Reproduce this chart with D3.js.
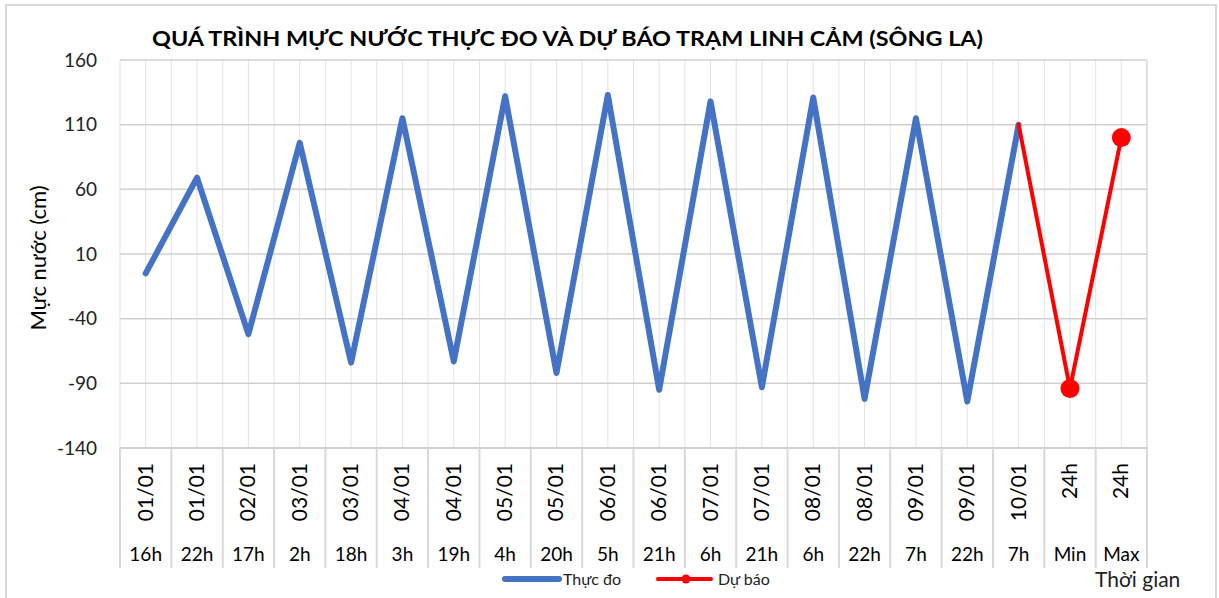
<!DOCTYPE html>
<html>
<head>
<meta charset="utf-8">
<script src="https://cdn.jsdelivr.net/npm/d3@7"></script>
<style>
  body { margin: 0; background: #fff; }
  svg { display: block; font-family: Lato, "Open Sans", sans-serif; }
</style>
</head>
<body>
<div id="chart"></div>
<script>
// Du lieu
var ngay      = ['01/01','01/01','02/01','03/01','03/01','04/01','04/01','05/01','05/01','06/01',
                 '06/01','07/01','07/01','08/01','08/01','09/01','09/01','10/01','24h','24h'];
var gio       = ['16h','22h','17h','2h','18h','3h','19h','4h','20h','5h',
                 '21h','6h','21h','6h','22h','7h','22h','7h','Min','Max'];
var thuc_do   = [-5, 69, -52, 96, -74, 115, -73, 132, -82, 133,
                 -95, 128, -93, 131, -102, 115, -104, 110, null, null];
var du_bao    = [null, null, null, null, null, null, null, null, null, null,
                 null, null, null, null, null, null, null, 110, -94, 100];
var y_ticks   = [-140, -90, -40, 10, 60, 110, 160];

var chart_width  = 1219;
var chart_height = 598;
var plot = { left: 120, right: 1147, top: 60, bottom: 448 };

var svg = d3.select('#chart')
    .append('svg')
    .attr('width', chart_width)
    .attr('height', chart_height);

// Khung bieu do
svg.append('rect')
    .attr('x', 6).attr('y', 5)
    .attr('width', 1210).attr('height', 600)
    .attr('fill', '#fff')
    .attr('stroke', '#d9d9d9')
    .attr('stroke-width', 2);

// Thang do
var x_scale = d3.scaleBand()
    .domain(d3.range(ngay.length))
    .range([plot.left, plot.right]);

var y_scale = d3.scaleLinear()
    .domain([-140, 160])
    .range([plot.bottom, plot.top]);

var bw = x_scale.bandwidth();

// Luoi doc (giua va bien moi nhom)
var grid = svg.append('g');
d3.range(ngay.length).forEach(function(i){
    var x0 = x_scale(i);
    grid.append('line')
        .attr('x1', x0 + bw / 2).attr('x2', x0 + bw / 2)
        .attr('y1', plot.top).attr('y2', plot.bottom)
        .attr('stroke', '#e3e3e3').attr('stroke-width', 1);
    grid.append('line')
        .attr('x1', x0).attr('x2', x0)
        .attr('y1', plot.top).attr('y2', plot.bottom)
        .attr('stroke', '#e3e3e3').attr('stroke-width', 1);
});
grid.append('line')
    .attr('x1', plot.right).attr('x2', plot.right)
    .attr('y1', plot.top).attr('y2', plot.bottom)
    .attr('stroke', '#d9d9d9').attr('stroke-width', 1.5);

// Luoi ngang
grid.selectAll('line.h')
    .data(y_ticks)
    .enter()
    .append('line')
    .attr('class', 'h')
    .attr('x1', plot.left).attr('x2', plot.right)
    .attr('y1', function(d){ return y_scale(d); })
    .attr('y2', function(d){ return y_scale(d); })
    .attr('stroke', '#d0d0d0')
    .attr('stroke-width', 1.5);

// Truc Y
var y_axis = svg.append('g')
    .attr('transform', 'translate(' + plot.left + ',0)')
    .call(d3.axisLeft(y_scale)
        .tickValues(y_ticks)
        .tickFormat(function(d){ return String(d); })
        .tickSize(0)
        .tickPadding(23));
y_axis.select('.domain').remove();
y_axis.selectAll('text')
    .attr('font-family', 'Lato, sans-serif')
    .attr('font-size', 19)
    .attr('fill', '#222');

svg.append('text')
    .attr('transform', 'translate(46,' + 258 + ') rotate(-90)')
    .attr('text-anchor', 'middle')
    .attr('font-size', 22)
    .attr('fill', '#000')
    .text('Mực nước (cm)');

// Truc X (nhan nhieu cap)
svg.append('line')
    .attr('x1', plot.left).attr('x2', plot.right)
    .attr('y1', plot.bottom).attr('y2', plot.bottom)
    .attr('stroke', '#d0d0d0').attr('stroke-width', 2);

var sep = d3.range(ngay.length + 1).map(function(i){
    return i < ngay.length ? x_scale(i) : plot.right;
});
svg.selectAll('line.sep')
    .data(sep)
    .enter()
    .append('line')
    .attr('class', 'sep')
    .attr('x1', function(d){ return d; })
    .attr('x2', function(d){ return d; })
    .attr('y1', plot.bottom)
    .attr('y2', 568)
    .attr('stroke', '#d9d9d9')
    .attr('stroke-width', 2);

svg.selectAll('text.ngay')
    .data(ngay)
    .enter()
    .append('text')
    .attr('class', 'ngay')
    .attr('transform', function(d, i){
        return 'translate(' + (x_scale(i) + bw / 2 + 7) + ',463) rotate(-90)';
    })
    .attr('text-anchor', 'end')
    .attr('font-size', 21)
    .attr('fill', '#000')
    .text(function(d){ return d; });

svg.selectAll('text.gio')
    .data(gio)
    .enter()
    .append('text')
    .attr('class', 'gio')
    .attr('x', function(d, i){ return x_scale(i) + bw / 2; })
    .attr('y', 561)
    .attr('text-anchor', 'middle')
    .attr('font-size', 19)
    .attr('fill', '#000')
    .text(function(d){ return d; });

svg.append('text')
    .attr('x', 1095).attr('y', 587)
    .attr('font-size', 21)
    .attr('fill', '#222')
    .text('Thời gian');

// Duong
var line = d3.line()
    .defined(function(d){ return d != null; })
    .x(function(d, i){ return x_scale(i) + bw / 2; })
    .y(function(d){ return y_scale(d); });

svg.append('path')
    .datum(thuc_do)
    .attr('d', line)
    .attr('fill', 'none')
    .attr('stroke', '#4472C4')
    .attr('stroke-width', 6)
    .attr('stroke-linejoin', 'round')
    .attr('stroke-linecap', 'round');

svg.append('path')
    .datum(du_bao)
    .attr('d', line)
    .attr('fill', 'none')
    .attr('stroke', '#FF0000')
    .attr('stroke-width', 4)
    .attr('stroke-linejoin', 'round')
    .attr('stroke-linecap', 'round');

svg.selectAll('circle.dot')
    .data(du_bao.map(function(d, i){ return { v: d, i: i }; })
        .filter(function(d){ return d.v != null && d.i > 17; }))
    .enter()
    .append('circle')
    .attr('class', 'dot')
    .attr('cx', function(d){ return x_scale(d.i) + bw / 2; })
    .attr('cy', function(d){ return y_scale(d.v); })
    .attr('r', 9.5)
    .attr('fill', '#FF0000');

// Tieu de
svg.append('text')
    .attr('x', 152).attr('y', 46)
    .attr('font-size', 21)
    .attr('font-weight', 'bold')
    .attr('fill', '#000')
    .attr('textLength', 831)
    .attr('lengthAdjust', 'spacingAndGlyphs')
    .text('QUÁ TRÌNH MỰC NƯỚC THỰC ĐO VÀ DỰ BÁO TRẠM LINH CẢM (SÔNG LA)');

// Chu thich
var legend = svg.append('g');
legend.append('line')
    .attr('x1', 505).attr('x2', 559).attr('y1', 579).attr('y2', 579)
    .attr('stroke', '#4472C4').attr('stroke-width', 6).attr('stroke-linecap', 'round');
legend.append('text')
    .attr('x', 563).attr('y', 585)
    .attr('font-size', 16).attr('fill', '#222')
    .text('Thực đo');
legend.append('line')
    .attr('x1', 658).attr('x2', 711).attr('y1', 579).attr('y2', 579)
    .attr('stroke', '#FF0000').attr('stroke-width', 4).attr('stroke-linecap', 'round');
legend.append('circle')
    .attr('cx', 686).attr('cy', 579).attr('r', 4.5).attr('fill', '#FF0000');
legend.append('text')
    .attr('x', 718).attr('y', 585)
    .attr('font-size', 16).attr('fill', '#222')
    .text('Dự báo');
</script>
</body>
</html>
